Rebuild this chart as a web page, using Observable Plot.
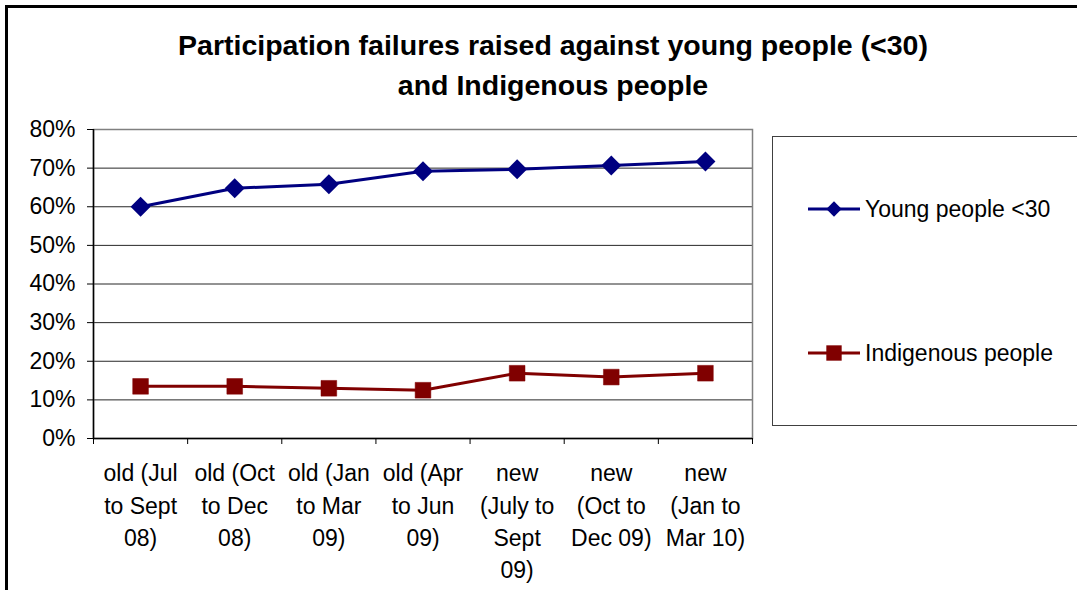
<!DOCTYPE html>
<html>
<head>
<meta charset="utf-8">
<script src="https://cdn.jsdelivr.net/npm/d3@7"></script>
<script src="https://cdn.jsdelivr.net/npm/@observablehq/plot@0.6"></script>
<style>
  html, body { margin: 0; padding: 0; background: #fff; overflow: hidden; }
  #wrap { position: relative; width: 1077px; height: 590px; overflow: hidden; font-family: "Liberation Sans", Arial, sans-serif; }
  #frame { position: absolute; left: 5px; top: 5px; width: 1200px; height: 800px; border-left: 3px solid #000; border-top: 3px solid #000; box-sizing: border-box; }
  #title { position: absolute; left: 0; top: 25px; width: 1106px; text-align: center; font-weight: bold; font-size: 28.5px; line-height: 40px; color: #000; }
  #chart { position: absolute; left: 0; top: 110px; }
  #legend { position: absolute; left: 772px; top: 136px; width: 340px; height: 290px; border: 1px solid #404040; background: #fff; box-sizing: border-box; }
  .entry { position: absolute; left: 34px; height: 30px; display: flex; align-items: center; font-size: 23px; color: #000; }
  .entry svg { margin-right: 4px; }
</style>
</head>
<body>
<div id="wrap">
  <div id="frame"></div>
  <div id="title">Participation failures raised against young people (&lt;30)<br>and Indigenous people</div>
  <div id="chart"></div>
  <div id="legend"></div>
</div>
<script>
const categories = [
  "old (Jul\nto Sept\n08)",
  "old (Oct\nto Dec\n08)",
  "old (Jan\nto Mar\n09)",
  "old (Apr\nto Jun\n09)",
  "new\n(July to\nSept\n09)",
  "new\n(Oct to\nDec 09)",
  "new\n(Jan to\nMar 10)"
];
const youngValues = [0.60, 0.648, 0.658, 0.692, 0.697, 0.707, 0.717];
const indigenousValues = [0.135, 0.135, 0.13, 0.125, 0.169, 0.159, 0.169];
const yTicks = [0, 0.1, 0.2, 0.3, 0.4, 0.5, 0.6, 0.7, 0.8];
const seriesNames = ["Young people <30", "Indigenous people"];
const seriesColors = ["#000080", "#800000"];

const idx = categories.map((_, i) => i);
const boundaries = d3.range(categories.length + 1).map(i => i - 0.5);
const young = idx.map(i => ({i, v: youngValues[i]}));
const indig = idx.map(i => ({i, v: indigenousValues[i]}));

const chart = Plot.plot({
  width: 1077,
  height: 480,
  marginLeft: 93,
  marginRight: 325,
  marginTop: 19,
  marginBottom: 152,
  style: {fontFamily: "Liberation Sans, Arial, sans-serif", fontSize: "23px", color: "#000", background: "transparent"},
  x: {type: "linear", domain: [boundaries[0], boundaries[boundaries.length - 1]], axis: null},
  y: {domain: [0, 0.8], axis: null},
  marks: [
    Plot.gridY(yTicks, {stroke: "#000", strokeOpacity: 0.85, strokeWidth: 1}),
    Plot.frame({stroke: "#808080", strokeWidth: 1.5}),
    Plot.axisY({ticks: yTicks, tickFormat: d3.format(".0%"), tickSize: 6, tickPadding: 12, fontSize: 23, stroke: "#000", label: null}),
    Plot.axisX({ticks: boundaries, tickSize: 6, tickFormat: () => "", stroke: "#000", label: null}),
    Plot.ruleY([0], {stroke: "#000", strokeWidth: 1.5}),
    Plot.ruleX([boundaries[0]], {stroke: "#000", strokeWidth: 1.5}),
    Plot.text(categories, {x: (d, i) => i, frameAnchor: "bottom", lineAnchor: "top", dy: 20, text: d => d, fontSize: 23, lineHeight: 1.4, fill: "#000"}),
    Plot.line(young, {x: "i", y: "v", stroke: seriesColors[0], strokeWidth: 3}),
    Plot.dot(young, {x: "i", y: "v", symbol: "diamond2", r: 9, fill: seriesColors[0], stroke: "none"}),
    Plot.line(indig, {x: "i", y: "v", stroke: seriesColors[1], strokeWidth: 3}),
    Plot.dot(indig, {x: "i", y: "v", symbol: "square2", r: 10, fill: seriesColors[1], stroke: seriesColors[1], strokeWidth: 0.5})
  ]
});
document.getElementById("chart").appendChild(chart);

// Legend
const legend = d3.select("#legend");
const tops = [57, 201];
const symbols = [d3.symbolDiamond2, d3.symbolSquare2];
const sizes = [150, 300];
seriesNames.forEach((name, k) => {
  const e = legend.append("div").attr("class", "entry").style("top", tops[k] + "px");
  const s = e.append("svg").attr("width", 54).attr("height", 24);
  s.append("line").attr("x1", 1).attr("x2", 53).attr("y1", 12).attr("y2", 12)
    .attr("stroke", seriesColors[k]).attr("stroke-width", 3);
  s.append("path").attr("transform", "translate(27,12)")
    .attr("d", d3.symbol(symbols[k], sizes[k])()).attr("fill", seriesColors[k]);
  e.append("span").text(name);
});
</script>
</body>
</html>
